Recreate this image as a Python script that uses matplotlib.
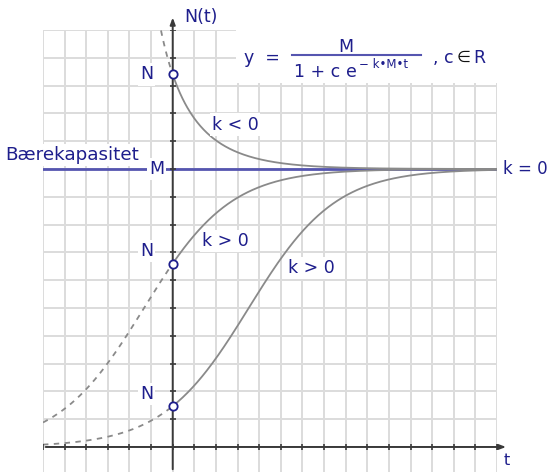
import numpy as np
import matplotlib
matplotlib.use("Agg")
import matplotlib.pyplot as plt

# ---- data (grid units) ----
M = 10.0                      # carrying capacity (Bærekapasitet)
N0 = [13.4, 6.6, 1.47]        # starting values N for the three curves
rate = 0.5                    # k*M, growth rate
x_left, x_right = -6, 15
y_bottom, y_top = -0.9, 15
curve_labels = ["k < 0", "k > 0", "k > 0"]

TXT = "#1e1e8c"
LINE_BLUE = "#5555b0"
CURVE = "#8a8a8a"
GRID = "#dcdcdc"
AXIS = "#3a3a3a"

W, H = 548, 472
fig = plt.figure(figsize=(W / 100, H / 100), dpi=100)
fig.patch.set_facecolor("white")
ax = fig.add_axes([43 / W, 0, 454 / W, 442 / H])
ax.set_xlim(x_left, x_right)
ax.set_ylim(y_bottom, y_top)
for s in ax.spines.values():
    s.set_visible(False)
ax.set_xticks([])
ax.set_yticks([])

# grid
for gx in range(x_left, x_right + 1):
    ax.axvline(gx, color=GRID, lw=1.4, zorder=0)
for gy in range(0, y_top + 1):
    ax.axhline(gy, color=GRID, lw=1.4, zorder=0)


def logistic(t, n0):
    c = M / n0 - 1
    return M / (1 + c * np.exp(-rate * t))


# curves
for i, n0 in enumerate(N0):
    ts = np.linspace(0, x_right, 400)
    ax.plot(ts, logistic(ts, n0), color=CURVE, lw=1.3, zorder=3)
    tl = np.linspace(x_left, 0, 400)
    yl = logistic(tl, n0)
    m = (yl <= y_top) & (yl > 0)
    ax.plot(tl[m], yl[m], color=CURVE, lw=1.3, ls=(0, (3, 3)), zorder=3)

# carrying capacity line
ax.plot([x_left, x_right], [M, M], color=LINE_BLUE, lw=2.0, zorder=2)

# axes with arrows
ax.annotate("", xy=(0, y_top + 0.55), xytext=(0, y_bottom),
            arrowprops=dict(arrowstyle="-|>,head_length=0.4,head_width=0.15",
                            color=AXIS, lw=1.4), annotation_clip=False, zorder=5)
ax.annotate("", xy=(x_right + 0.55, 0), xytext=(x_left, 0),
            arrowprops=dict(arrowstyle="-|>,head_length=0.4,head_width=0.15",
                            color=AXIS, lw=1.4), annotation_clip=False, zorder=5)
ax.plot(range(x_left, x_right + 1), [0] * (x_right - x_left + 1), ls="none",
        marker="|", ms=4, mew=1.2, color=AXIS, zorder=5)
ax.plot([0] * (y_top + 1), range(0, y_top + 1), ls="none",
        marker="_", ms=4, mew=1.2, color=AXIS, zorder=5)

# start points
ax.plot([0] * len(N0), N0, ls="none", marker="o", ms=6, mfc="white",
        mec=TXT, mew=1.3, zorder=6, clip_on=False)

fs = 12.5
wb = dict(facecolor="white", edgecolor="none", pad=1.5)
for n0, off in zip(N0, [0.0, 0.45, 0.45]):
    ax.text(-1.2, n0 + off, "N", color=TXT, fontsize=fs, ha="center",
            va="center", bbox=wb, zorder=4)
ax.text(-0.75, M, "M", color=TXT, fontsize=fs, ha="center", va="center",
        bbox=wb, zorder=4)
ax.text(x_left - 1.75, M + 0.5, "Bærekapasitet", color=TXT, fontsize=13.2,
        ha="left", va="center", bbox=wb, zorder=4)
ax.text(x_right + 0.27, M, "k = 0", color=TXT, fontsize=12, ha="left",
        va="center", zorder=4, clip_on=False)
ax.text(1.8, 11.6, curve_labels[0], color=TXT, fontsize=fs, ha="left",
        va="center", bbox=wb, zorder=4)
ax.text(1.35, 7.4, curve_labels[1], color=TXT, fontsize=fs, ha="left",
        va="center", bbox=wb, zorder=4)
ax.text(5.35, 6.45, curve_labels[2], color=TXT, fontsize=fs, ha="left",
        va="center", bbox=wb, zorder=4)
ax.text(x_right + 0.45, -0.5, "t", color=TXT, fontsize=11.5, ha="center",
        va="center", clip_on=False)
ax.text(0.55, y_top + 0.45, "N(t)", color=TXT, fontsize=fs, ha="left",
        va="center", clip_on=False)

# formula box
bx0 = 2.95
box = plt.Rectangle((bx0, 13.1), x_right - bx0, y_top - 13.1, facecolor="white",
                    edgecolor="none", zorder=4)
ax.add_patch(box)
ax.text(3.3, 14.0, "y  =", color=TXT, fontsize=fs, ha="left", va="center", zorder=5)
ax.text(8.0, 14.4, "M", color=TXT, fontsize=fs, ha="center", va="center", zorder=5)
ax.plot([5.5, 11.5], [14.1, 14.1], color=LINE_BLUE, lw=1.5, zorder=5)
ax.text(5.62, 13.5, "1 + c", color=TXT, fontsize=fs, ha="left", va="center", zorder=5)
ax.text(8.0, 13.5, "e", color=TXT, fontsize=fs, ha="left", va="center", zorder=5)
ax.text(8.6, 13.75, "− k•M•t", color=TXT, fontsize=8.5, ha="left", va="center", zorder=5)
ax.text(12.05, 14.0, ", c", color=TXT, fontsize=fs, ha="left", va="center", zorder=5)
ax.text(13.12, 14.0, "∈", color="#111111", fontsize=11.5, ha="left", va="center",
        zorder=5)
ax.text(13.9, 14.0, "R", color=TXT, fontsize=fs, ha="left", va="center", zorder=5)

fig.savefig("out.png", dpi=100)
